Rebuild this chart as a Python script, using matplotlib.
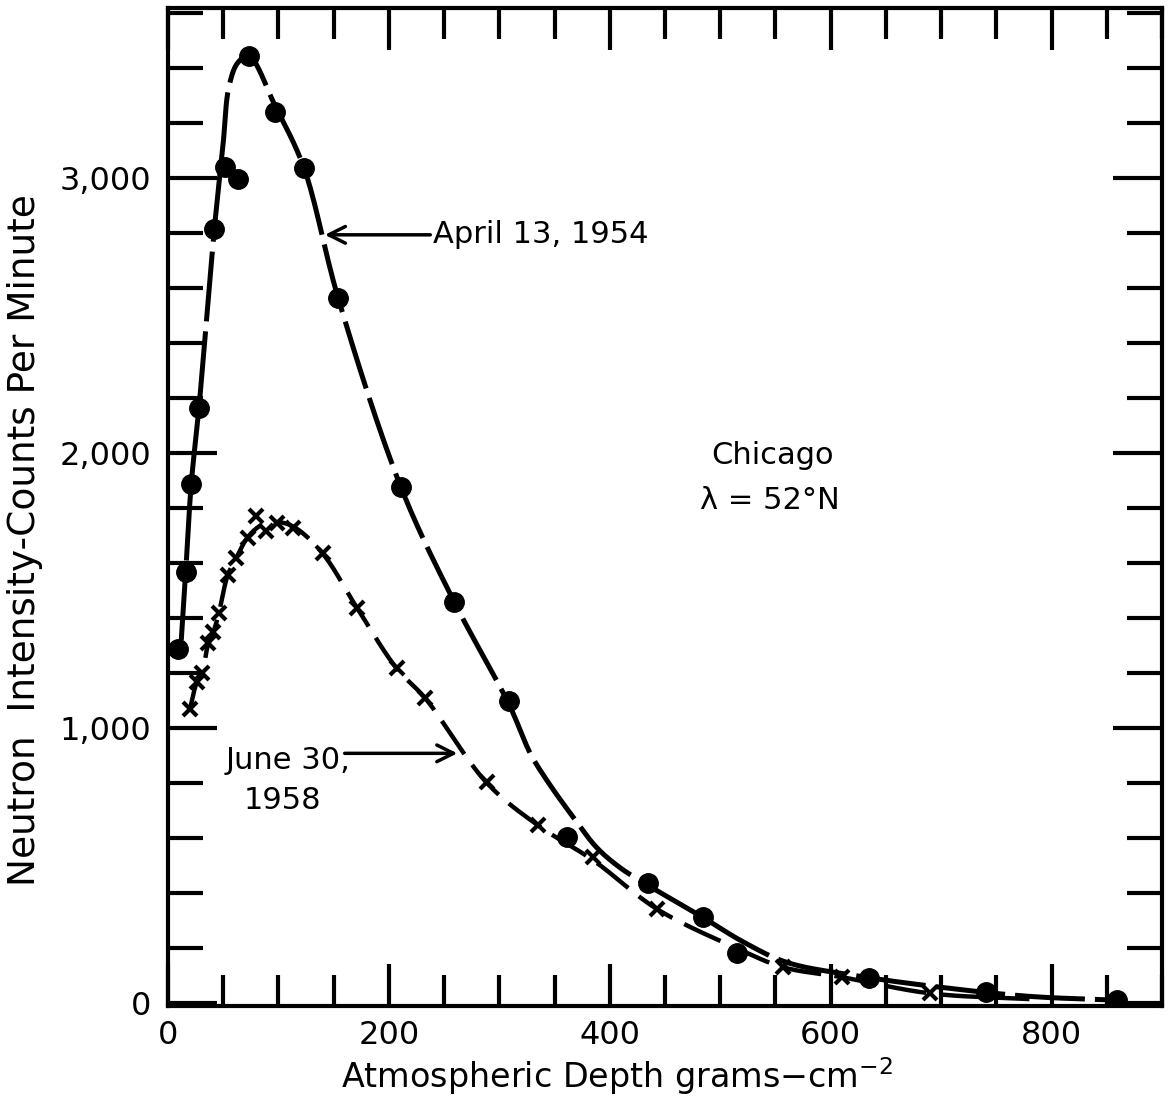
import matplotlib
matplotlib.use('Agg')
import matplotlib.pyplot as plt
import numpy as np
from matplotlib.ticker import MultipleLocator, FixedLocator, FixedFormatter

plt.rcParams['font.family'] = ['DejaVu Sans']

# measured points, April 13, 1954 (dots)
april_x = [9, 16, 21, 28, 42, 52, 63, 73, 97, 123, 154, 211, 259, 309, 361, 435, 484, 515, 635, 741, 859]
april_y = [1287, 1567, 1887, 2166, 2817, 3043, 2999, 3446, 3242, 3039, 2566, 1876, 1461, 1101, 603, 436, 313, 182, 91, 40, 11]

# measured points, June 30, 1958 (crosses)
june_x = [20, 26, 31, 36, 41, 46, 54, 62, 72, 80, 89, 99, 113, 140, 171, 207, 233, 289, 335, 385, 443, 557, 610, 690]
june_y = [1072, 1167, 1203, 1309, 1349, 1418, 1556, 1621, 1694, 1774, 1719, 1748, 1730, 1636, 1439, 1218, 1109, 803, 647, 531, 342, 131, 95, 36]

# hand-drawn fitted curves
april_curve_x = [12, 16, 21, 28, 42, 50, 55, 63, 73, 97, 123, 154, 211, 259, 309, 328, 343, 367, 388, 409, 430, 484, 520, 560, 620, 700, 780, 860]
april_curve_y = [1320, 1567, 1887, 2166, 2817, 3130, 3330, 3420, 3446, 3264, 3039, 2566, 1876, 1461, 1085, 909, 811, 676, 567, 494, 440, 313, 225, 149, 102, 58, 25, 11]

june_curve_x = [20, 26, 31, 36, 41, 46, 54, 62, 72, 85, 100, 115, 140, 171, 207, 233, 289, 335, 385, 443, 515, 557, 610, 690, 780]
june_curve_y = [1072, 1167, 1203, 1300, 1349, 1418, 1556, 1621, 1694, 1740, 1750, 1730, 1636, 1439, 1218, 1109, 800, 647, 520, 342, 200, 131, 95, 36, 15]

y_ticks = [0, 1000, 2000, 3000]
y_tick_labels = ['0', '1,000', '2,000', '3,000']
x_ticks = [0, 200, 400, 600, 800]


def smooth(xs, ys, n=16):
    # centripetal catmull-rom through the knots (scaled to the axes box)
    p = np.column_stack([np.array(xs) / 900.0, np.array(ys) / 3620.0])
    p = np.vstack([2 * p[0] - p[1], p, 2 * p[-1] - p[-2]])
    out = []
    for i in range(1, len(p) - 2):
        p0, p1, p2, p3 = p[i - 1], p[i], p[i + 1], p[i + 2]
        t0 = 0.0
        t1 = t0 + np.linalg.norm(p1 - p0) ** 0.5
        t2 = t1 + np.linalg.norm(p2 - p1) ** 0.5
        t3 = t2 + np.linalg.norm(p3 - p2) ** 0.5
        t = np.linspace(t1, t2, n, endpoint=False)[:, None]
        a1 = (t1 - t) / (t1 - t0) * p0 + (t - t0) / (t1 - t0) * p1
        a2 = (t2 - t) / (t2 - t1) * p1 + (t - t1) / (t2 - t1) * p2
        a3 = (t3 - t) / (t3 - t2) * p2 + (t - t2) / (t3 - t2) * p3
        b1 = (t2 - t) / (t2 - t0) * a1 + (t - t0) / (t2 - t0) * a2
        b2 = (t3 - t) / (t3 - t1) * a2 + (t - t1) / (t3 - t1) * a3
        out.append((t2 - t) / (t2 - t1) * b1 + (t - t1) / (t2 - t1) * b2)
    out.append(p[-2][None, :])
    out = np.vstack(out)
    return out[:, 0] * 900.0, out[:, 1] * 3620.0


fig = plt.figure(figsize=(11.76, 10.96), dpi=100)
ax = fig.add_axes([168 / 1176, 1 - 1006 / 1096, (1162 - 168) / 1176, (1006 - 8) / 1096])

cx, cy = smooth(april_curve_x, april_curve_y)
ax.plot(cx, cy, color='black', lw=3.6, dashes=(14, 2), dash_capstyle='butt')
cx, cy = smooth(june_curve_x, june_curve_y)
ax.plot(cx, cy, color='black', lw=3.2, dashes=(9, 3), dash_capstyle='butt')

ax.plot(april_x, april_y, 'o', color='black', ms=14, zorder=5)
ax.plot(june_x, june_y, 'x', color='black', ms=10, mew=3, zorder=5)

ax.set_xlim(0, 900)
ax.set_ylim(-10, 3620)

ax.xaxis.set_major_locator(FixedLocator(x_ticks))
ax.xaxis.set_minor_locator(MultipleLocator(50))
ax.yaxis.set_major_locator(FixedLocator(y_ticks))
ax.yaxis.set_major_formatter(FixedFormatter(y_tick_labels))
ax.yaxis.set_minor_locator(MultipleLocator(200))

ax.tick_params(which='both', direction='in', top=True, right=True, width=3, labelsize=23, colors='black')
ax.tick_params(axis='x', which='major', length=30, pad=10)
ax.tick_params(axis='x', which='minor', length=22)
ax.tick_params(axis='y', which='major', length=35, pad=12)
ax.tick_params(axis='y', which='minor', length=25)
for s in ax.spines.values():
    s.set_linewidth(3)

ax.set_xlabel('Atmospheric Depth grams$-$cm$^{-2}$', fontsize=24)
ax.xaxis.set_label_coords(0.452, -0.049)
ax.set_ylabel('Neutron  Intensity-Counts Per Minute', fontsize=27, labelpad=9)
ax.yaxis.set_label_coords(-0.126, 0.467)

ax.annotate('April 13, 1954', xy=(142, 2795), xytext=(240, 2795), fontsize=22,
            va='center', ha='left',
            arrowprops=dict(arrowstyle='->', lw=2.5, color='black', mutation_scale=30,
                            shrinkA=0, shrinkB=0))
ax.text(52, 883, 'June 30,', fontsize=22, va='center', ha='left')
ax.text(104, 738, '1958', fontsize=22, va='center', ha='center')
ax.annotate('', xy=(262, 909), xytext=(160, 909),
            arrowprops=dict(arrowstyle='->', lw=2.5, color='black', mutation_scale=30,
                            shrinkA=0, shrinkB=0))
ax.text(547, 1992, 'Chicago', fontsize=22, va='center', ha='center')
ax.text(545, 1828, 'λ = 52°N', fontsize=22, va='center', ha='center')

fig.savefig('out.png', dpi=100)
plt.close(fig)
